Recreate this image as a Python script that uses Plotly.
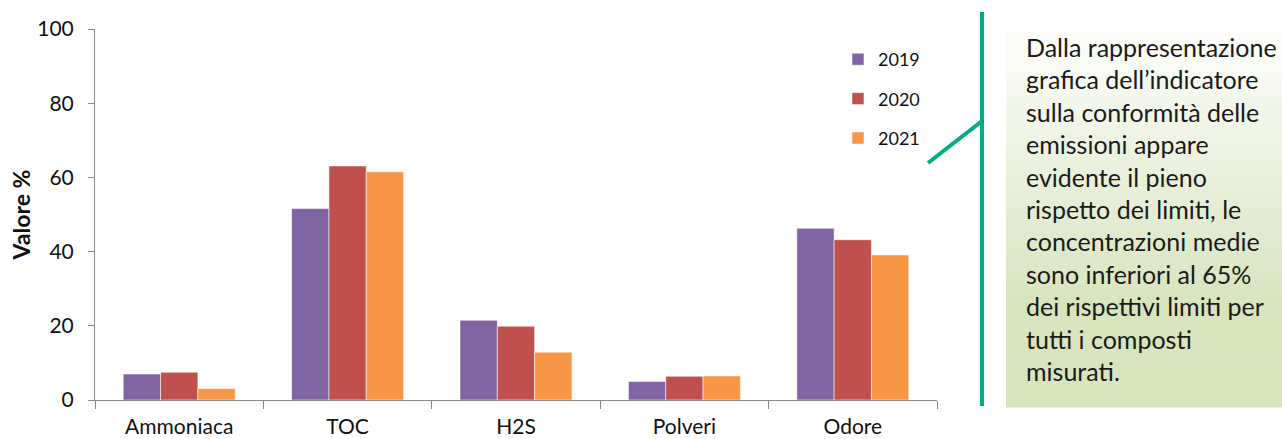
import plotly.graph_objects as go

categories = ["Ammoniaca", "TOC", "H2S", "Polveri", "Odore"]
years = ["2019", "2020", "2021"]
v2019 = [7.0, 51.6, 21.5, 5.0, 46.3]
v2020 = [7.5, 63.1, 19.9, 6.4, 43.2]
v2021 = [3.1, 61.5, 12.9, 6.5, 39.1]
colors = ["#8064A2", "#C0504D", "#F79646"]
yticks = [0, 20, 40, 60, 80, 100]
callout_lines = [
    "Dalla rappresentazione",
    "grafica dell’indicatore",
    "sulla conformità delle",
    "emissioni appare",
    "evidente il pieno",
    "rispetto dei limiti, le",
    "concentrazioni medie",
    "sono inferiori al 65%",
    "dei rispettivi limiti per",
    "tutti i composti",
    "misurati.",
]

W, H = 1282, 439
ML, MR, MT, MB = 95, 345, 29, 39
PW, PH = W - ML - MR, H - MT - MB
FONT = "Lato, 'Open Sans', sans-serif"


def px(x):
    return (x - ML) / PW


def py(y):
    return (H - MB - y) / PH


fig = go.Figure()
for name, vals, col in zip(years, [v2019, v2020, v2021], colors):
    fig.add_trace(go.Bar(
        x=categories, y=vals, name=name, legendgroup=name,
        marker=dict(color=col, line=dict(color="rgba(255,255,255,0.55)", width=1)),
    ))

shapes = []
# gradient box
x0b, x1b, y0b, y1b = 1006, 1282, 12, 407
n = 60
top = (255, 255, 255)
bot = (215, 228, 189)
for i in range(n):
    t = i / (n - 1)
    f = min(1.0, t / 0.75)
    c = tuple(int(round(top[k] + (bot[k] - top[k]) * f)) for k in range(3))
    ya = y0b + (y1b - y0b) * i / n
    yb = y0b + (y1b - y0b) * (i + 1) / n + 0.5
    shapes.append(dict(type="rect", xref="paper", yref="paper",
                       x0=px(x0b), x1=px(x1b), y0=py(ya), y1=py(yb),
                       fillcolor="rgb(%d,%d,%d)" % c, line=dict(width=0), layer="below"))
green = "#00AE83"
shapes.append(dict(type="line", xref="paper", yref="paper",
                   x0=px(982), x1=px(982), y0=py(12), y1=py(406),
                   line=dict(color=green, width=4)))
shapes.append(dict(type="line", xref="paper", yref="paper",
                   x0=px(928), x1=px(982), y0=py(163), y1=py(121),
                   line=dict(color=green, width=4)))

annotations = []
for i, line in enumerate(callout_lines):
    yc = 47 + i * 32.4
    annotations.append(dict(text=line, xref="paper", yref="paper",
                            x=px(1024), y=py(yc), xanchor="left", yanchor="middle",
                            showarrow=False, font=dict(family=FONT, size=25, color="#1a1a1a")))

fig.update_layout(
    width=W, height=H,
    margin=dict(l=ML, r=MR, t=MT, b=MB, autoexpand=False),
    paper_bgcolor="white", plot_bgcolor="white",
    barmode="group", bargap=0.335, bargroupgap=0,
    font=dict(family=FONT, size=18, color="#111"),
    showlegend=True,
    legend=dict(x=px(838), y=py(41), xanchor="left", yanchor="top",
                font=dict(family=FONT, size=18, color="#111"),
                tracegroupgap=13, traceorder="grouped",
                bgcolor="rgba(0,0,0,0)"),
    shapes=shapes,
    annotations=annotations,
    xaxis=dict(type="category", range=[-0.5, 4.5], showline=True, linecolor="#888",
               linewidth=1, ticks="outside", tickson="boundaries", ticklen=8,
               tickcolor="#888", showgrid=False, tickfont=dict(size=21),
               ticklabelstandoff=8, automargin=False),
    yaxis=dict(range=[0, 100], tickvals=yticks, showline=True, linecolor="#888",
               linewidth=1, ticks="outside", ticklen=6, tickcolor="#888",
               showgrid=False, zeroline=False, tickfont=dict(size=21),
               ticklabelstandoff=10, automargin=False,
               title=dict(text="<b>Valore %</b>", font=dict(size=23), standoff=0)),
)

fig.write_html("out.html", config={"displayModeBar": False},
               post_script="document.body.style.margin='0px';document.body.style.overflow='hidden';")
